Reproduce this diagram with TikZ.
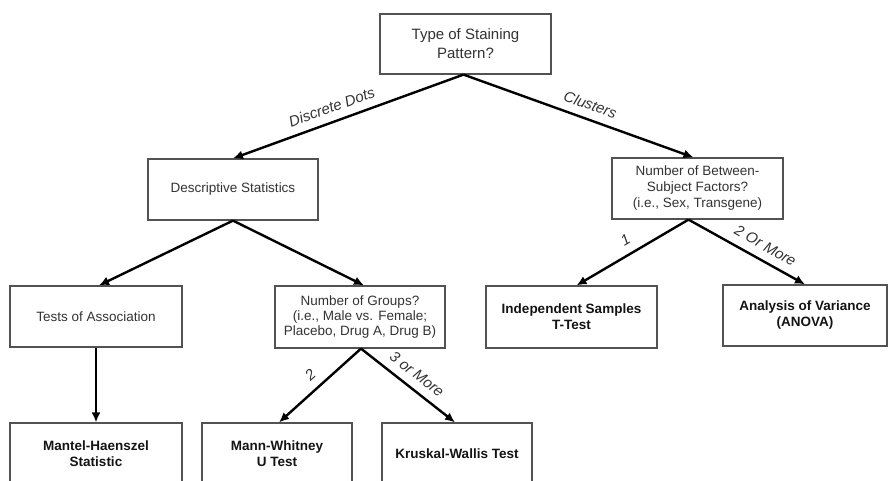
\documentclass[tikz,border=0pt]{standalone}
\usepackage{fontspec}
\setmainfont{Liberation Sans}
\usetikzlibrary{arrows.meta}
\begin{document}
\begin{tikzpicture}[x=1pt,y=-1pt,
  box/.style={draw=black!68, line width=1.2pt, fill=white, align=center, inner sep=0pt,
              text=black!80, font=\fontsize{13.5}{16}\selectfont},
  bbox/.style={box, font=\fontsize{13.5}{16}\selectfont\bfseries, text=black!92},
  conn/.style={line width=2.4pt, draw=black, -{Latex[length=10pt,width=9pt]}},
  lab/.style={sloped, anchor=south, inner sep=8pt, font=\fontsize{15}{18}\selectfont\itshape, text=black!80}]
\useasboundingbox (0,0) rectangle (888,480);
\clip (0,0) rectangle (888,480);
\fill[white] (0,0) rectangle (888,480);

\node[box, font=\fontsize{15}{19}\selectfont, minimum width=171pt, minimum height=60pt] (top) at (465.5,44) {Type of Staining\\Pattern?};
\node[box, minimum width=170pt, minimum height=61pt] (desc) at (233,189.5) {Descriptive Statistics};
\node[box, minimum width=171pt, minimum height=61pt] (betw) at (697.5,188.5) {Number of Between-\\Subject Factors?\\(i.e., Sex, Transgene)};
\node[box, minimum width=172pt, minimum height=61pt] (assoc) at (96,316.5) {Tests of Association};
\node[box, font=\fontsize{13.5}{15}\selectfont, minimum width=170pt, minimum height=62pt] (groups) at (360,317) {Number of Groups?\\(i.e., Male vs. Female;\\Placebo, Drug A, Drug B)};
\node[bbox, minimum width=171pt, minimum height=62pt] (indep) at (571.5,317) {Independent Samples\\T-Test};
\node[bbox, minimum width=164pt, minimum height=61pt] (anova) at (805,315.5) {Analysis of Variance\\(ANOVA)};
\node[bbox, minimum width=172pt, minimum height=61pt] (mantel) at (96,453.5) {Mantel-Haenszel\\Statistic};
\node[bbox, minimum width=150pt, minimum height=61pt] (mann) at (277,453.5) {Mann-Whitney\\U Test};
\node[bbox, minimum width=150pt, minimum height=61pt] (krusk) at (457,453.5) {Kruskal-Wallis Test};

\draw[conn] ([xshift=-2pt]top.south) -- node[lab, pos=0.55] {Discrete Dots} (desc.north);
\draw[conn] ([xshift=-2pt]top.south) -- node[lab, pos=0.53] {Clusters} ([xshift=-4pt]betw.north);
\draw[conn] (desc.south) -- ([xshift=3pt]assoc.north);
\draw[conn] (desc.south) -- ([xshift=4pt]groups.north);
\draw[conn] ([xshift=-9pt]betw.south) -- node[lab, pos=0.5] {1} ([xshift=5pt]indep.north);
\draw[conn] ([xshift=-9pt]betw.south) -- node[lab, pos=0.6] {2 Or More} (anova.north);
\draw[conn] (assoc.south) -- (mantel.north);
\draw[conn] ([xshift=1pt]groups.south) -- node[lab, pos=0.5] {2} ([xshift=2pt]mann.north);
\draw[conn] ([xshift=1pt]groups.south) -- node[lab, pos=0.5] {3 or More} ([xshift=-2pt]krusk.north);
\end{tikzpicture}
\end{document}
